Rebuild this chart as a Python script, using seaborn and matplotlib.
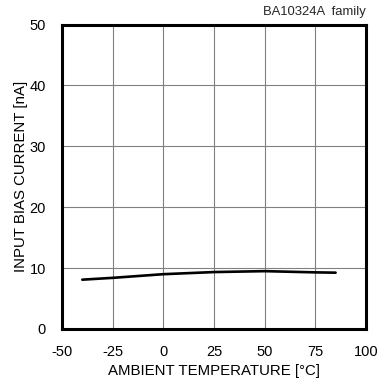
import matplotlib
matplotlib.use("Agg")
import matplotlib.pyplot as plt
import seaborn as sns
import pandas as pd

# data
temp = [-40, -25, 0, 25, 50, 75, 85]
bias_current = [8.1, 8.4, 9.0, 9.35, 9.5, 9.3, 9.25]
x_ticks = [-50, -25, 0, 25, 50, 75, 100]
y_ticks = [0, 10, 20, 30, 40, 50]

df = pd.DataFrame({"temp": temp, "current": bias_current})

sns.set_style("white")
plt.rcParams['font.family'] = ['Liberation Sans', 'DejaVu Sans']
plt.rcParams['axes.unicode_minus'] = False

fig = plt.figure(figsize=(3.79, 3.83), dpi=100)
ax = fig.add_axes([62 / 379, 1 - 329 / 383, 304 / 379, 304.5 / 383])

sns.lineplot(data=df, x="temp", y="current", ax=ax, color="black", linewidth=1.9)

ax.set_xlim(-50, 100)
ax.set_ylim(0, 50)
ax.set_xticks(x_ticks)
ax.set_yticks(y_ticks)
ax.grid(True, color="#808080", linewidth=0.8)
ax.set_axisbelow(True)
for s in ax.spines.values():
    s.set_color("black")
    s.set_linewidth(2.2)
    s.set_visible(True)
ax.tick_params(direction="in", length=4, width=1.2, labelsize=10.5, pad=11.5, colors="black")

ax.set_xlabel("AMBIENT TEMPERATURE [°C]", fontsize=10.8, labelpad=3.5, color="black")
ax.set_ylabel("INPUT BIAS CURRENT [nA]", fontsize=10.8, labelpad=1, color="black")
ax.text(1.0, 1.02, "BA10324A  family", transform=ax.transAxes, ha="right", va="bottom", fontsize=9.4)

fig.savefig("out.png", dpi=100)
